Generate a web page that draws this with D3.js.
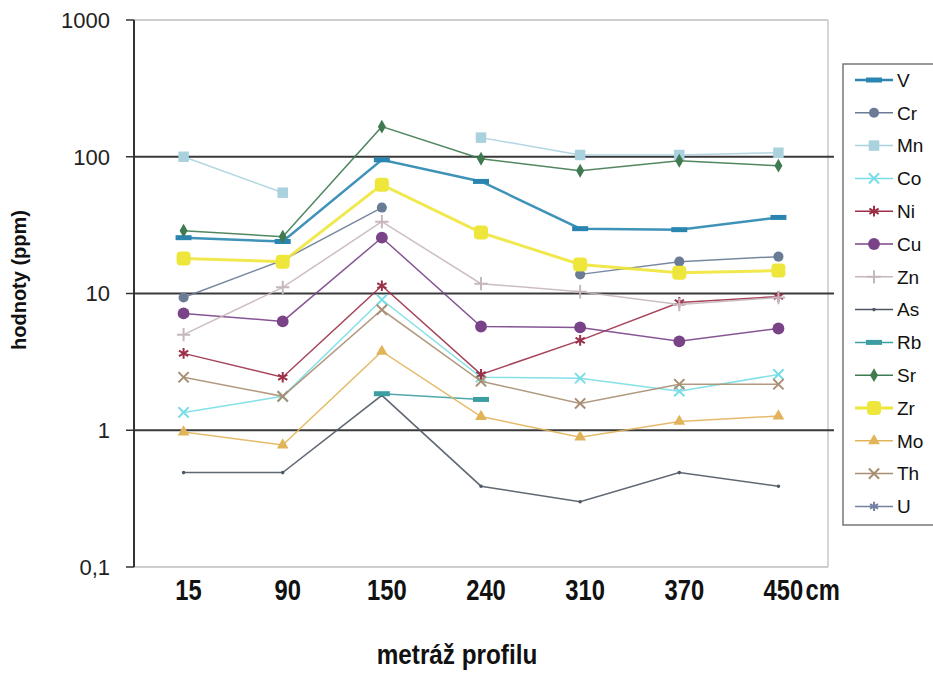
<!DOCTYPE html>
<html lang="cs">
<head>
    <meta charset="utf-8">
    <title>Stopové prvky v profilu</title>
    <script src="https://d3js.org/d3.v7.min.js"></script>
    <style>
        body { margin: 0; background: #fff; }
        svg { display: block; font-family: "Liberation Sans", Arial, sans-serif; }
        .tick-y { font-size: 22px; fill: #222; text-anchor: end; }
        .tick-x { font-weight: bold; font-size: 29px; fill: #111; text-anchor: middle; }
        .title { font-weight: bold; fill: #111; }
        .legend-label { font-size: 19px; fill: #111; }
    </style>
</head>
<body>
<svg width="933" height="674"></svg>
<script>
    // metráž profilu (cm)
    const depths = ["15", "90", "150", "240", "310", "370", "450"];
    const yTicks = [0.1, 1, 10, 100, 1000];
    const yTickLabels = ["0,1", "1", "10", "100", "1000"];

    // hodnoty (ppm), null = no value
    const V  = [25.6, 24, 95, 66, 29.8, 29.3, 36];
    const Cr = [9.35, 17.5, 42.5, null, 13.8, 17.1, 18.6];
    const Mn = [100, 54.6, null, 138, 103, 103, 107];
    const Co = [1.35, 1.77, 9.0, 2.44, 2.4, 1.93, 2.56];
    const Ni = [3.65, 2.44, 11.4, 2.56, 4.54, 8.6, 9.5];
    const Cu = [7.15, 6.25, 25.6, 5.74, 5.65, 4.47, 5.55];
    const Zn = [5.0, 11.1, 33.5, 11.8, 10.3, 8.3, 9.35];
    const As = [0.49, 0.49, 1.8, 0.39, 0.30, 0.49, 0.39];
    const Rb = [null, null, 1.85, 1.68, null, null, null];
    const Sr = [28.8, 26, 166, 96.7, 79, 93.5, 86];
    const Zr = [18, 17.1, 62.5, 27.9, 16.3, 14.2, 14.7];
    const Mo = [0.97, 0.78, 3.77, 1.26, 0.89, 1.16, 1.27];
    const Th = [2.44, 1.77, 7.6, 2.28, 1.57, 2.17, 2.17];
    const U  = [null, null, null, null, null, null, null];

    const series = [
        { name: "V",  values: V,  color: "#2a86b0", lw: 2.5, sym: "dash",     size: 0 },
        { name: "Cr", values: Cr, color: "#6a7b96", lw: 1.5, sym: d3.symbolCircle,   size: 80 },
        { name: "Mn", values: Mn, color: "#a9d2de", lw: 1.5, sym: d3.symbolSquare,   size: 110 },
        { name: "Co", values: Co, color: "#78dde6", lw: 1.5, sym: d3.symbolTimes,    size: 70, stroke: true },
        { name: "Ni", values: Ni, color: "#9c3048", lw: 1.5, sym: d3.symbolAsterisk, size: 80, stroke: true },
        { name: "Cu", values: Cu, color: "#7a4388", lw: 1.5, sym: d3.symbolCircle,   size: 110 },
        { name: "Zn", values: Zn, color: "#c6b6be", lw: 1.5, sym: d3.symbolPlus,     size: 60, stroke: true },
        { name: "As", values: As, color: "#4e5864", lw: 1.5, sym: d3.symbolCircle,   size: 10 },
        { name: "Rb", values: Rb, color: "#3d9ea2", lw: 1.5, sym: "dash",     size: 0 },
        { name: "Sr", values: Sr, color: "#3f7a50", lw: 1.5, sym: d3.symbolDiamond,  size: 55 },
        { name: "Zr", values: Zr, color: "#eee63a", lw: 3,   sym: "round",    size: 14 },
        { name: "Mo", values: Mo, color: "#e2b45a", lw: 1.5, sym: d3.symbolTriangle, size: 60 },
        { name: "Th", values: Th, color: "#a88e72", lw: 1.5, sym: d3.symbolTimes,    size: 70, stroke: true },
        { name: "U",  values: U,  color: "#7482a0", lw: 1.5, sym: d3.symbolAsterisk, size: 60, stroke: true }
    ];

    const plotL = 134, plotR = 828, plotT = 20, plotB = 567;
    const svg = d3.select("svg");

    const x = d3.scalePoint().domain(depths).range([plotL, plotR]).padding(0.5);
    const y = d3.scaleLog().domain([0.1, 1000]).range([plotB, plotT]);

    // frame
    svg.append("line").attr("x1", plotL).attr("x2", plotR).attr("y1", plotT).attr("y2", plotT)
        .attr("stroke", "#bdbdbd").attr("stroke-width", 1.5);
    svg.append("line").attr("x1", plotR).attr("x2", plotR).attr("y1", plotT).attr("y2", plotB)
        .attr("stroke", "#c8c8c8").attr("stroke-width", 1.5);
    svg.append("line").attr("x1", plotL).attr("x2", plotR).attr("y1", plotB).attr("y2", plotB)
        .attr("stroke", "#bdbdbd").attr("stroke-width", 1.5);

    // gridlines at 1, 10, 100
    svg.selectAll(".grid")
        .data(yTicks.filter(d => d > 0.1 && d < 1000))
        .enter().append("line")
        .attr("x1", plotL).attr("x2", plotR + 6)
        .attr("y1", d => y(d)).attr("y2", d => y(d))
        .attr("stroke", "#3a3a3a").attr("stroke-width", 1.8);

    // y axis
    svg.append("line").attr("x1", plotL).attr("x2", plotL).attr("y1", plotT).attr("y2", plotB)
        .attr("stroke", "#333").attr("stroke-width", 2);
    svg.selectAll(".ytick")
        .data(yTicks)
        .enter().append("line")
        .attr("x1", plotL - 8).attr("x2", plotL)
        .attr("y1", d => y(d)).attr("y2", d => y(d))
        .attr("stroke", "#333").attr("stroke-width", 1.5);
    svg.selectAll(".tick-y")
        .data(yTicks)
        .enter().append("text")
        .attr("class", "tick-y")
        .attr("x", 110)
        .attr("y", d => y(d))
        .attr("dy", "0.36em")
        .text((d, i) => yTickLabels[i]);

    // x labels (condensed bold)
    svg.selectAll(".tick-x")
        .data(depths)
        .enter().append("text")
        .attr("class", "tick-x")
        .attr("transform", d => `translate(${x(d) + 5},600) scale(0.82,1)`)
        .text(d => d);
    svg.append("text").attr("class", "tick-x")
        .attr("transform", `translate(${x("450") + 27},600) scale(0.82,1)`)
        .style("text-anchor", "start")
        .text("cm");

    // axis titles
    svg.append("text").attr("class", "title")
        .attr("transform", "translate(26,280) rotate(-90)")
        .attr("text-anchor", "middle")
        .style("font-size", "20px")
        .text("hodnoty (ppm)");
    svg.append("text").attr("class", "title")
        .attr("transform", "translate(457,664) scale(0.9,1)")
        .attr("text-anchor", "middle")
        .style("font-size", "27px")
        .text("metráž profilu");

    // lines
    const line = d3.line()
        .defined(d => d.v != null)
        .x(d => x(d.x))
        .y(d => y(d.v));

    function drawMarker(g, s, px, py) {
        if (s.sym === "dash") {
            g.append("rect")
                .attr("x", px - 8).attr("y", py - 2.5)
                .attr("width", 16).attr("height", 5)
                .attr("fill", s.color);
        } else if (s.sym === "round") {
            g.append("rect")
                .attr("x", px - s.size / 2).attr("y", py - s.size / 2)
                .attr("width", s.size).attr("height", s.size)
                .attr("rx", 4)
                .attr("fill", s.color);
        } else {
            g.append("path")
                .attr("transform", `translate(${px},${py})`)
                .attr("d", d3.symbol().type(s.sym).size(s.size)())
                .attr("fill", s.stroke ? "none" : s.color)
                .attr("stroke", s.color)
                .attr("stroke-width", s.stroke ? 2 : 0);
        }
    }

    series.forEach(s => {
        const pts = depths.map((d, i) => ({ x: d, v: s.values[i] }));
        const g = svg.append("g");
        g.append("path")
            .datum(pts)
            .attr("d", line)
            .attr("fill", "none")
            .attr("stroke", s.color)
            .attr("stroke-width", s.lw)
            .attr("opacity", 0.9);
        pts.filter(p => p.v != null).forEach(p => drawMarker(g, s, x(p.x), y(p.v)));
    });

    // legend
    const lgTop = 64, lgStep = 32.8;
    svg.append("rect")
        .attr("x", 843).attr("y", lgTop)
        .attr("width", 100).attr("height", 461)
        .attr("fill", "#fff")
        .attr("stroke", "#777").attr("stroke-width", 1.5);
    series.forEach((s, i) => {
        const cy = lgTop + 16 + i * lgStep;
        const g = svg.append("g");
        g.append("line")
            .attr("x1", 855).attr("x2", 893)
            .attr("y1", cy).attr("y2", cy)
            .attr("stroke", s.color).attr("stroke-width", s.lw);
        drawMarker(g, s, 874, cy);
        g.append("text")
            .attr("class", "legend-label")
            .attr("x", 897).attr("y", cy)
            .attr("dy", "0.36em")
            .text(s.name);
    });
</script>
</body>
</html>
